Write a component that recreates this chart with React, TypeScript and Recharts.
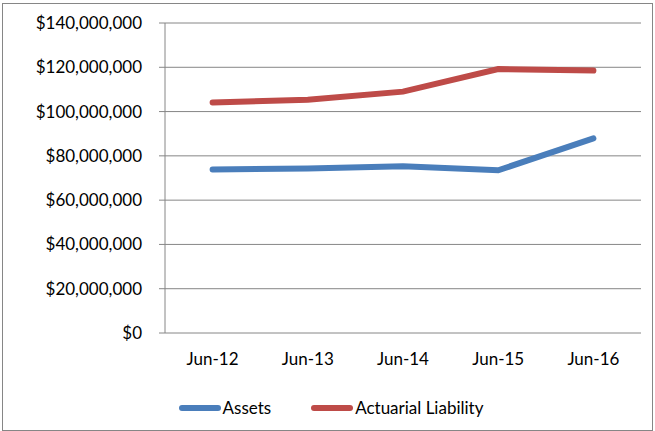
import { LineChart, Line, XAxis, YAxis, CartesianGrid, Legend } from "recharts";

const categories = ["Jun-12", "Jun-13", "Jun-14", "Jun-15", "Jun-16"];
const assets = [73800000, 74300000, 75300000, 73500000, 87900000];
const liability = [104100000, 105300000, 109000000, 119200000, 118500000];
const yTicks = [0, 20000000, 40000000, 60000000, 80000000, 100000000, 120000000, 140000000];
const edgeTicks = [0, 1, 2, 3, 4, 5];

const BLUE = "#4a7ebb";
const RED = "#be4b48";
const GREY = "#868686";
const FONT = "Lato, 'Open Sans', sans-serif";

const data = categories.map((c, i) => ({
  label: c,
  assets: assets[i],
  liability: liability[i],
}));

const fmt = (v: number) => "$" + v.toLocaleString("en-US");

function LegendBox() {
  const item = (color: string, text: string) => (
    <div style={{ display: "flex", alignItems: "center" }}>
      <div style={{ width: 42, height: 6, borderRadius: 3, background: color }} />
      <span style={{ marginLeft: 2 }}>{text}</span>
    </div>
  );
  return (
    <div
      style={{
        display: "flex",
        justifyContent: "center",
        gap: 40,
        fontFamily: FONT,
        fontSize: 17,
        color: "#000",
        paddingLeft: 7,
      }}
    >
      {item(BLUE, "Assets")}
      {item(RED, "Actuarial Liability")}
    </div>
  );
}

export default function App() {
  return (
    <div style={{ position: "absolute", left: 0, top: 0, width: 655, height: 431, background: "#fff" }}>
      <div
        style={{
          position: "absolute",
          left: 2,
          top: 3,
          width: 649,
          height: 426,
          border: "1px solid " + GREY,
        }}
      />
      <div style={{ position: "absolute", left: 0, top: 0 }}>
        <LineChart width={655} height={431} data={data} margin={{ top: 23, right: 14, left: 0, bottom: 58 }}>
          <CartesianGrid vertical={false} stroke={GREY} strokeWidth={1} />
          <XAxis
            dataKey="label"
            scale="band"
            axisLine={false}
            tickLine={false}
            height={40}
            tickMargin={14}
            tick={{ fill: "#000", fontSize: 17, fontFamily: FONT }}
          />
          <XAxis
            xAxisId="edges"
            type="number"
            domain={[0, 5]}
            ticks={edgeTicks}
            tick={false}
            tickSize={6}
            height={0}
            stroke={GREY}
            axisLine={{ stroke: GREY }}
            tickLine={{ stroke: GREY }}
          />
          <YAxis
            width={165}
            domain={[0, 140000000]}
            ticks={yTicks}
            tickFormatter={fmt}
            tickSize={6}
            tickMargin={17}
            stroke={GREY}
            tick={{ fill: "#000", fontSize: 17, fontFamily: FONT }}
          />
          <Legend
            verticalAlign="middle"
            align="center"
            layout="horizontal"
            wrapperStyle={{ top: 397, left: 0, width: 655 }}
            content={() => <LegendBox />}
          />
          <Line
            dataKey="assets"
            name="Assets"
            stroke={BLUE}
            strokeWidth={6}
            strokeLinecap="round"
            dot={false}
            isAnimationActive={false}
          />
          <Line
            dataKey="liability"
            name="Actuarial Liability"
            stroke={RED}
            strokeWidth={6}
            strokeLinecap="round"
            dot={false}
            isAnimationActive={false}
          />
        </LineChart>
      </div>
    </div>
  );
}
